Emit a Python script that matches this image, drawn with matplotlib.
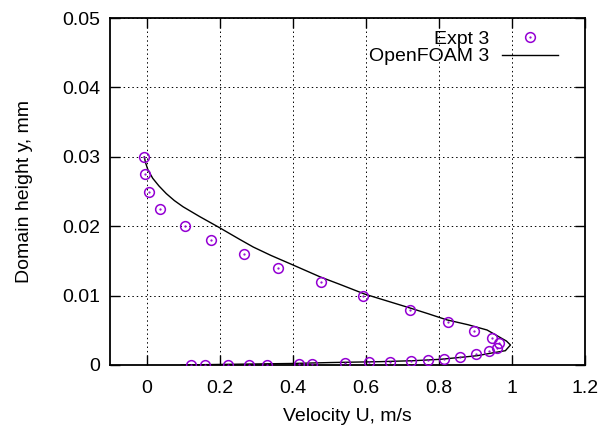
import matplotlib
matplotlib.use("Agg")
import matplotlib.pyplot as plt
from matplotlib.lines import Line2D

plt.rcParams['font.family'] = ['Liberation Sans', 'DejaVu Sans']

# Experimental data (U m/s, y mm)
expt_u = [-0.006, -0.005, 0.008, 0.037, 0.106, 0.176, 0.268, 0.361, 0.477, 0.593,
          0.721, 0.825, 0.897, 0.946, 0.964, 0.959, 0.937, 0.902, 0.859, 0.813,
          0.770, 0.724, 0.667, 0.608, 0.543, 0.454, 0.416, 0.331, 0.281, 0.223,
          0.160, 0.123]
expt_y = [0.0300, 0.0275, 0.0250, 0.0225, 0.0200, 0.0180, 0.0160, 0.0140, 0.0120, 0.0100,
          0.0079, 0.0062, 0.0049, 0.0039, 0.0032, 0.0025, 0.0020, 0.0016, 0.0012, 0.0009,
          0.0007, 0.0006, 0.0005, 0.0004, 0.00025, 0.00015, 0.0001, 0.0, 0.0, 0.0,
          0.0, 0.0]

# OpenFOAM profile
foam_u = [-0.006, -0.003, 0.004, 0.017, 0.034, 0.054, 0.076, 0.100, 0.145, 0.196,
          0.255, 0.292, 0.340, 0.397, 0.475, 0.530, 0.598, 0.660, 0.722, 0.770,
          0.822, 0.880, 0.932, 0.964, 0.985, 0.996, 0.982, 0.941, 0.905, 0.850,
          0.804, 0.731, 0.639, 0.500, 0.400, 0.200, 0.095]
foam_y = [0.0300, 0.0292, 0.0281, 0.0269, 0.0258, 0.0247, 0.0237, 0.0228, 0.0214, 0.0199,
          0.0181, 0.0170, 0.0158, 0.0145, 0.0127, 0.0116, 0.0102, 0.0092, 0.0082, 0.0074,
          0.0065, 0.0058, 0.00504, 0.00408, 0.00345, 0.00288, 0.00206, 0.00169, 0.00134, 0.00105,
          0.00082, 0.00062, 0.00048, 0.00035, 0.00022, 0.00008, 0.0]

xticks = [0, 0.2, 0.4, 0.6, 0.8, 1.0, 1.2]
xticklabels = ['0', '0.2', '0.4', '0.6', '0.8', '1', '1.2']
yticks = [0, 0.01, 0.02, 0.03, 0.04, 0.05]
yticklabels = ['0', '0.01', '0.02', '0.03', '0.04', '0.05']

purple = '#9400D3'
FS = 14

fig = plt.figure(figsize=(6.02, 4.29), dpi=100)
ax = fig.add_axes([0.1827, 0.1492, 0.9718 - 0.1827, 0.958 - 0.1492])

ax.plot(foam_u, foam_y, color='black', lw=1.0, zorder=3, solid_joinstyle='round')
ax.plot(expt_u, expt_y, linestyle='none', marker='o', markersize=7,
        markerfacecolor='none', markeredgecolor=purple, markeredgewidth=1.1, zorder=4)
ax.plot(expt_u, expt_y, linestyle='none', marker='.', markersize=1.2,
        color=purple, zorder=4)

ax.set_xlim(-0.1, 1.2)
ax.set_ylim(0, 0.05)
ax.set_xticks(xticks)
ax.set_xticklabels(xticklabels)
ax.set_yticks(yticks)
ax.set_yticklabels(yticklabels)
ax.tick_params(direction='in', length=7, width=1, top=True, right=True,
               labelsize=FS)
ax.tick_params(axis='x', pad=11)
ax.tick_params(axis='y', pad=7)
for s in ax.spines.values():
    s.set_linewidth(1.3)
ax.grid(True, linestyle=(0, (1.5, 3)), color='black', linewidth=0.7)

ax.set_xlabel('Velocity U, m/s', fontsize=FS, labelpad=8)
ax.set_ylabel('Domain height y, mm', fontsize=FS, labelpad=21)

h1 = (Line2D([], [], linestyle='none', marker='o', markersize=7, markerfacecolor='none',
             markeredgecolor=purple, markeredgewidth=1.1),
      Line2D([], [], linestyle='none', marker='.', markersize=1.2, color=purple))
h2 = Line2D([], [], color='black', lw=1.0)
leg = ax.legend([h1, h2], ['Expt 3', 'OpenFOAM 3'], loc='upper right',
                markerfirst=False, frameon=False, fontsize=FS,
                handlelength=2.9, handletextpad=0.65, labelspacing=0.0,
                borderaxespad=0.0, borderpad=0.0, bbox_to_anchor=(0.943, 0.965))
for t in leg.get_texts():
    t.set_ha('right')

fig.savefig('out.png', dpi=100)
